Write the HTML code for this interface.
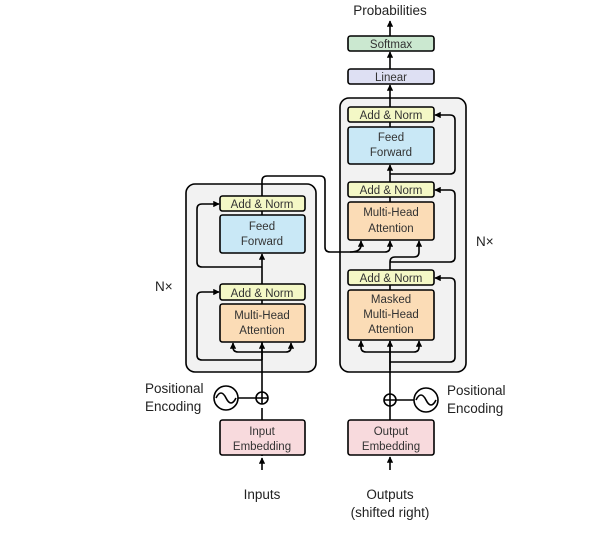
<!DOCTYPE html>
<html><head><meta charset="utf-8"><style>
html,body{margin:0;padding:0;background:#fff;}
svg{display:block;font-family:"Liberation Sans",sans-serif;}
</style></head><body>
<svg width="607" height="533" viewBox="0 0 607 533" xmlns="http://www.w3.org/2000/svg">
<defs>
<marker id="a" viewBox="0 0 10 10" refX="9" refY="5" markerWidth="4" markerHeight="4" orient="auto"><path d="M0,0L10,5L0,10z" fill="#000"/></marker>
</defs>
<g stroke="#000" stroke-width="1.6">
<!-- big boxes -->
<rect x="186" y="184" width="130" height="188" rx="9" fill="#f2f2f2"/>
<rect x="340" y="98" width="126" height="274" rx="9" fill="#f2f2f2"/>
</g>
<g fill="none" stroke="#000" stroke-width="1.6">
<!-- encoder lines -->
<path d="M262 456 L262 408"/>
<path d="M262 470 L262 458" marker-end="url(#a)"/>
<path d="M262 392 L262 342" />
<path d="M262 360 L262 343" marker-end="url(#a)"/>
<path d="M262 360 L202 360 Q197 360 197 355 L197 297 Q197 292 202 292 L219 292" marker-end="url(#a)"/>
<path d="M262 352 L238 352 Q233 352 233 347 L233 343" marker-end="url(#a)"/>
<path d="M262 352 L286 352 Q291 352 291 347 L291 343" marker-end="url(#a)"/>
<path d="M262 284 L262 254" marker-end="url(#a)"/>
<path d="M262 267 L202 267 Q197 267 197 262 L197 209 Q197 204 202 204 L219 204" marker-end="url(#a)"/>
<path d="M262 300 L262 304"/>
<path d="M262 211 L262 215"/>
<path d="M262 196 L262 181 Q262 176 267 176 L320 176 Q325 176 325 181 L325 247 Q325 252 330 252 L385 252 Q390 252 390 247 L390 241" marker-end="url(#a)"/>
<path d="M350 252 Q361 252 361 245 L361 241" marker-end="url(#a)"/>
<!-- decoder lines -->
<path d="M390 470 L390 457" marker-end="url(#a)"/>
<path d="M390 420 L390 406"/>
<path d="M390 394 L390 341"/>
<path d="M390 362 L450 362 Q455 362 455 357 L455 283 Q455 278 450 278 L435 278" marker-end="url(#a)"/>
<path d="M390 352 L366 352 Q361 352 361 347 L361 341" marker-end="url(#a)"/>
<path d="M390 352 L414 352 Q419 352 419 347 L419 341" marker-end="url(#a)"/>
<path d="M390 370 L390 341" marker-end="url(#a)"/>
<path d="M390 285 L390 290"/>
<path d="M390 270 L390 262 Q390 257 395 257 L414 257 Q419 257 419 252 L419 241" marker-end="url(#a)"/>
<path d="M390 262 L450 262 Q455 262 455 257 L455 195 Q455 190 450 190 L435 190" marker-end="url(#a)"/>
<path d="M390 197 L390 202"/>
<path d="M390 182 L390 165" marker-end="url(#a)"/>
<path d="M390 174 L450 174 Q455 174 455 169 L455 120 Q455 115 450 115 L435 115" marker-end="url(#a)"/>
<path d="M390 122 L390 127"/>
<path d="M390 107 L390 85" marker-end="url(#a)"/>
<path d="M390 69 L390 52" marker-end="url(#a)"/>
<path d="M390 36 L390 21" marker-end="url(#a)"/>
</g>
<g stroke="#000" stroke-width="1.6">
<!-- encoder blocks -->
<rect x="220" y="196" width="85" height="15" rx="2.5" fill="#f4f8c6"/>
<rect x="220" y="215" width="85" height="38" rx="2.5" fill="#c9e8f6"/>
<rect x="220" y="284" width="85" height="16" rx="2.5" fill="#f4f8c6"/>
<rect x="220" y="304" width="85" height="38" rx="2.5" fill="#fbdcb6"/>
<rect x="220" y="420" width="85" height="35" rx="2.5" fill="#f8dadd"/>
<!-- decoder blocks -->
<rect x="348" y="36" width="86" height="15" rx="2.5" fill="#cbe8d0"/>
<rect x="348" y="69" width="86" height="15" rx="2.5" fill="#dee0f3"/>
<rect x="348" y="107" width="86" height="15" rx="2.5" fill="#f4f8c6"/>
<rect x="348" y="127" width="86" height="37" rx="2.5" fill="#c9e8f6"/>
<rect x="348" y="182" width="86" height="15" rx="2.5" fill="#f4f8c6"/>
<rect x="348" y="202" width="86" height="38" rx="2.5" fill="#fbdcb6"/>
<rect x="348" y="270" width="86" height="15" rx="2.5" fill="#f4f8c6"/>
<rect x="348" y="290" width="86" height="50" rx="2.5" fill="#fbdcb6"/>
<rect x="348" y="420" width="86" height="35" rx="2.5" fill="#f8dadd"/>
</g>
<!-- positional encoding -->
<g fill="#fff" stroke="#000" stroke-width="1.6">
<line x1="238" y1="398" x2="256" y2="398"/>
<circle cx="226" cy="398" r="12"/>
<path d="M216 398 Q221 388 226 398 T236 398" fill="none"/>
<circle cx="262" cy="398" r="6"/>
<path d="M256 398 L268 398 M262 392 L262 404" fill="none"/>
<line x1="396" y1="400" x2="414" y2="400"/>
<circle cx="426" cy="400" r="12"/>
<path d="M416 400 Q421 390 426 400 T436 400" fill="none"/>
<circle cx="390" cy="400" r="6"/>
<path d="M384 400 L396 400 M390 394 L390 406" fill="none"/>
</g>
<g font-size="11.5" fill="#333" text-anchor="middle">
<text x="262" y="208">Add &amp; Norm</text>
<text x="262" y="230">Feed</text>
<text x="262" y="245">Forward</text>
<text x="262" y="297">Add &amp; Norm</text>
<text x="262" y="319">Multi-Head</text>
<text x="262" y="334">Attention</text>
<text x="262" y="435">Input</text>
<text x="262" y="450">Embedding</text>
<text x="391" y="48">Softmax</text>
<text x="391" y="81">Linear</text>
<text x="391" y="119">Add &amp; Norm</text>
<text x="391" y="141">Feed</text>
<text x="391" y="156">Forward</text>
<text x="391" y="194">Add &amp; Norm</text>
<text x="391" y="216">Multi-Head</text>
<text x="391" y="232">Attention</text>
<text x="391" y="282">Add &amp; Norm</text>
<text x="391" y="303">Masked</text>
<text x="391" y="318">Multi-Head</text>
<text x="391" y="333">Attention</text>
<text x="391" y="435">Output</text>
<text x="391" y="450">Embedding</text>
</g>
<g font-size="13.5" fill="#222">
<text x="390" y="15" text-anchor="middle">Probabilities</text>
<text x="262" y="499" text-anchor="middle">Inputs</text>
<text x="390" y="499" text-anchor="middle">Outputs</text>
<text x="390" y="517" text-anchor="middle">(shifted right)</text>
<text x="145" y="393">Positional</text>
<text x="145" y="411">Encoding</text>
<text x="447" y="395">Positional</text>
<text x="447" y="413">Encoding</text>
<text x="155" y="291">N×</text>
<text x="476" y="246">N×</text>
</g>
</svg>
</body></html>
